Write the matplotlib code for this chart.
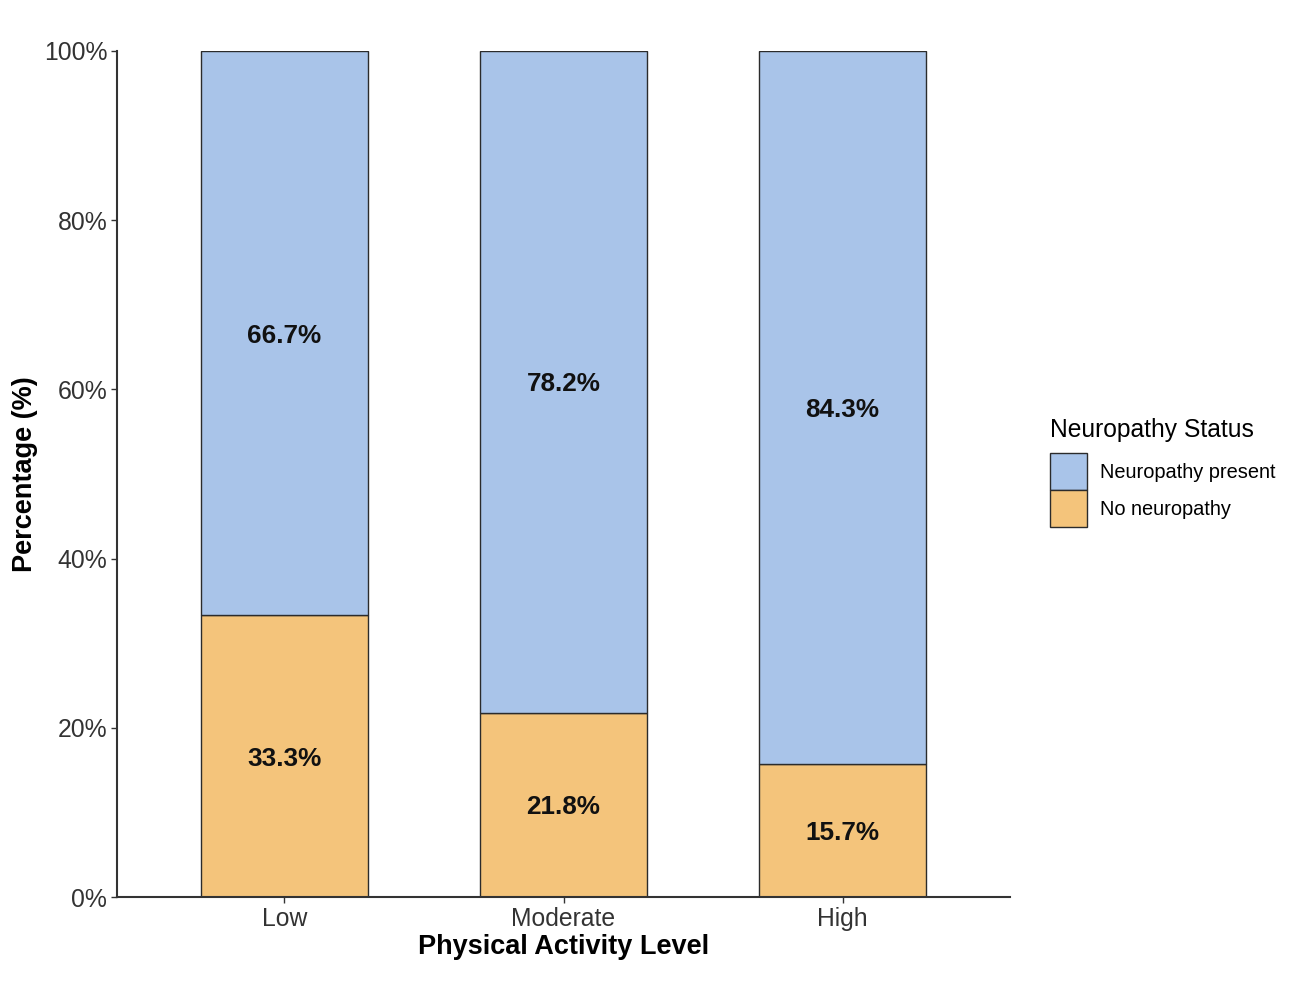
import matplotlib
matplotlib.use("Agg")
import matplotlib.pyplot as plt
from matplotlib.patches import Patch
import numpy as np

categories = ["Low", "Moderate", "High"]
no_neuropathy = [33.3, 21.8, 15.7]
neuropathy_present = [66.7, 78.2, 84.3]
yticks = [0, 20, 40, 60, 80, 100]
ytick_labels = ["0%", "20%", "40%", "60%", "80%", "100%"]

plt.rcParams['font.family'] = ['Liberation Sans', 'DejaVu Sans']

col_present = "#A9C4E9"
col_none = "#F4C47B"
edge = "#2b2b2b"

fig = plt.figure(figsize=(12.94, 9.96), dpi=100)
ax = fig.add_axes([117/1294, 99/996, (1010-117)/1294, (897-51)/996])

x = np.arange(1, len(categories) + 1)
w = 0.6
ax.bar(x, no_neuropathy, width=w, color=col_none, edgecolor=edge, linewidth=1.0)
ax.bar(x, neuropathy_present, width=w, bottom=no_neuropathy, color=col_present,
       edgecolor=edge, linewidth=1.0)

for xi, a, b in zip(x, no_neuropathy, neuropathy_present):
    ax.text(xi, a / 2, f"{a:.1f}%", ha="center", va="center_baseline", fontsize=18.8,
            fontweight="bold", color="#111111")
    ax.text(xi, a + b / 2, f"{b:.1f}%", ha="center", va="center_baseline", fontsize=18.8,
            fontweight="bold", color="#111111")

ax.set_xlim(0.4, 3.6)
ax.set_ylim(0, 100)
ax.set_xticks(x)
ax.set_xticklabels(categories, fontsize=17.8, color="#333333")
ax.set_yticks(yticks)
ax.set_yticklabels(ytick_labels, fontsize=17.8, color="#333333")
ax.tick_params(axis="both", length=4, width=1.0, color="#333333", pad=3)

for s in ["top", "right"]:
    ax.spines[s].set_visible(False)
for s in ["left", "bottom"]:
    ax.spines[s].set_color("#333333")
    ax.spines[s].set_linewidth(1.5)

ax.set_xlabel("Physical Activity Level", fontsize=19.5, fontweight="bold", labelpad=2)
ax.set_ylabel("Percentage (%)", fontsize=19.5, fontweight="bold", labelpad=4)

handles = [Patch(facecolor=col_present, edgecolor=edge, linewidth=1.0, label="Neuropathy present"),
           Patch(facecolor=col_none, edgecolor=edge, linewidth=1.0, label="No neuropathy")]
leg = fig.legend(handles=handles, title="Neuropathy Status", loc="upper left",
                 bbox_to_anchor=(1050/1294, 1 - 418/996), frameon=False,
                 fontsize=14.4, title_fontsize=17.7, handlelength=1.85, handleheight=2.47,
                 handletextpad=0.65, labelspacing=0.0, borderaxespad=0, borderpad=0)
leg._legend_box.align = "left"
leg._legend_box.sep = 8

fig.savefig("out.png", dpi=100, facecolor="white")
